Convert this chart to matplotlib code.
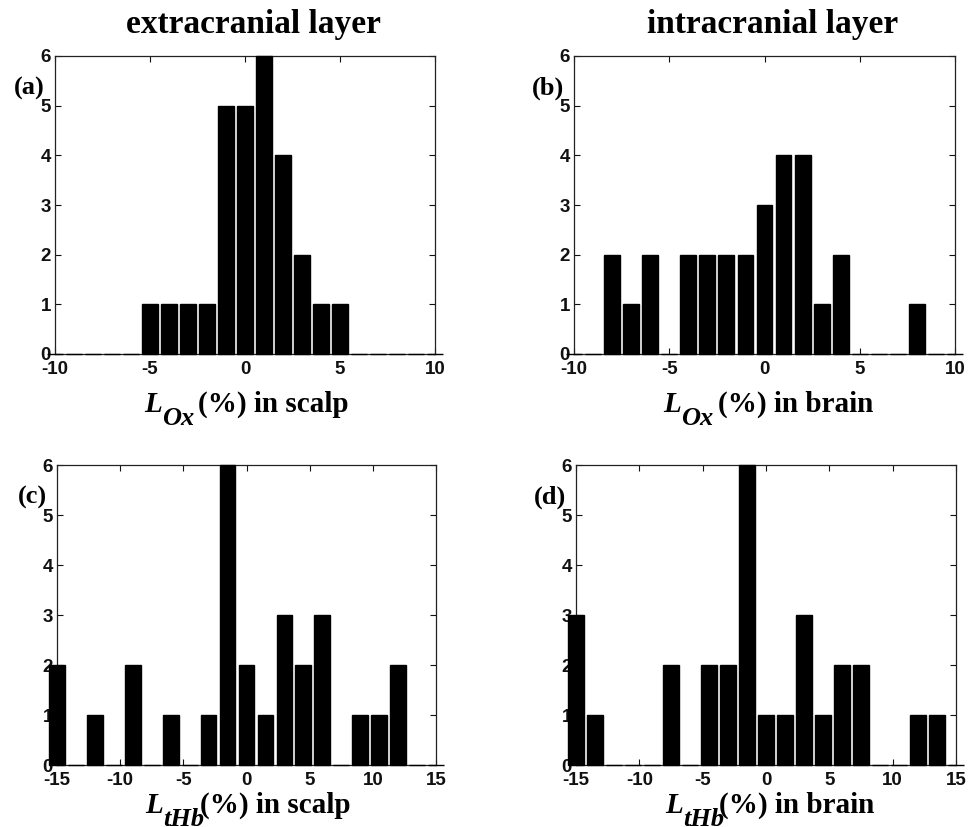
import numpy as np
import matplotlib
matplotlib.use('Agg')
import matplotlib.pyplot as plt

# bin centres of the histograms
ox_bins = np.arange(-10, 11)
thb_bins = np.arange(-15, 15.1, 1.5)

# counts per bin
ox_scalp = [0, 0, 0, 0, 0, 1, 1, 1, 1, 5, 5, 6, 4, 2, 1, 1, 0, 0, 0, 0, 0]
ox_brain = [0, 0, 2, 1, 2, 0, 2, 2, 2, 2, 3, 4, 4, 1, 2, 0, 0, 0, 1, 0, 0]
thb_scalp = [2, 0, 1, 0, 2, 0, 1, 0, 1, 6, 2, 1, 3, 2, 3, 0, 1, 1, 2, 0, 0]
thb_brain = [3, 1, 0, 0, 0, 2, 0, 2, 2, 6, 1, 1, 3, 1, 2, 2, 0, 0, 1, 1, 0]

titles = ['extracranial layer', 'intracranial layer']
panel_tags = ['(a)', '(b)', '(c)', '(d)']
sub_names = ['Ox', 'Ox', 'tHb', 'tHb']
places = ['in scalp', 'in brain', 'in scalp', 'in brain']

W, H = 968, 827
SERIF = 'Liberation Serif'
plt.rcParams['font.family'] = 'Liberation Sans'
plt.rcParams['font.weight'] = 'bold'
plt.rcParams['axes.unicode_minus'] = False

fig = plt.figure(figsize=(W / 100, H / 100), dpi=100)


def px(x, y):
    # pixel position (from top-left) -> figure fraction
    return x / W, 1 - y / H


# axes boxes in pixels: left, top, right, bottom
boxes = [(55, 56, 435, 354), (574, 56, 955, 354),
         (57, 465, 436, 765), (576, 465, 956, 765)]
data = [(ox_bins, ox_scalp), (ox_bins, ox_brain),
        (thb_bins, thb_scalp), (thb_bins, thb_brain)]
xlims = [(-10, 10), (-10, 10), (-15, 15), (-15, 15)]

for i, (box, (bins, counts)) in enumerate(zip(boxes, data)):
    l, t, r, b = box
    ax = fig.add_axes([l / W, 1 - b / H, (r - l) / W, (b - t) / H])
    step = bins[1] - bins[0]
    ax.bar(bins, counts, width=0.83 * step, color='black', edgecolor='black',
           linewidth=1.0, zorder=3, clip_on=False)
    ax.set_xlim(*xlims[i])
    ax.set_ylim(0, 6)
    ax.set_yticks(range(7))
    if i < 2:
        ax.set_xticks([-10, -5, 0, 5, 10])
    else:
        ax.set_xticks([-15, -10, -5, 0, 5, 10, 15])
    ax.tick_params(direction='in', top=True, right=True, length=4, width=0.8,
                   labelsize=13.5, colors='#111111')
    ax.tick_params(axis='x', pad=5)
    ax.tick_params(axis='y', pad=3)
    for sp in ax.spines.values():
        sp.set_linewidth(0.9)
        sp.set_color('#222222')

    cx = (l + r) / 2
    # panel tag
    fig.text(*px(l - 10, t + 32), panel_tags[i], family=SERIF, weight='bold',
             fontsize=19, ha='right', va='center')
    # x label: L with subscript, then the rest
    yb = b + 58 if i < 2 else b + 48
    fig.text(*px(cx - 101, yb), 'L', family=SERIF, weight='bold',
             style='italic', fontsize=21, va='baseline')
    fig.text(*px(cx - 83, yb + 13), sub_names[i], family=SERIF, weight='bold',
             style='italic', fontsize=19, va='baseline')
    fig.text(*px(cx - 47, yb), '(%) ' + places[i], family=SERIF,
             weight='bold', fontsize=21, va='baseline')
    if i < 2:
        fig.text(*px(cx + 8, 33), titles[i], family=SERIF, weight='bold',
                 fontsize=24, ha='center', va='baseline')

fig.savefig('out.png', dpi=100, facecolor='white')
